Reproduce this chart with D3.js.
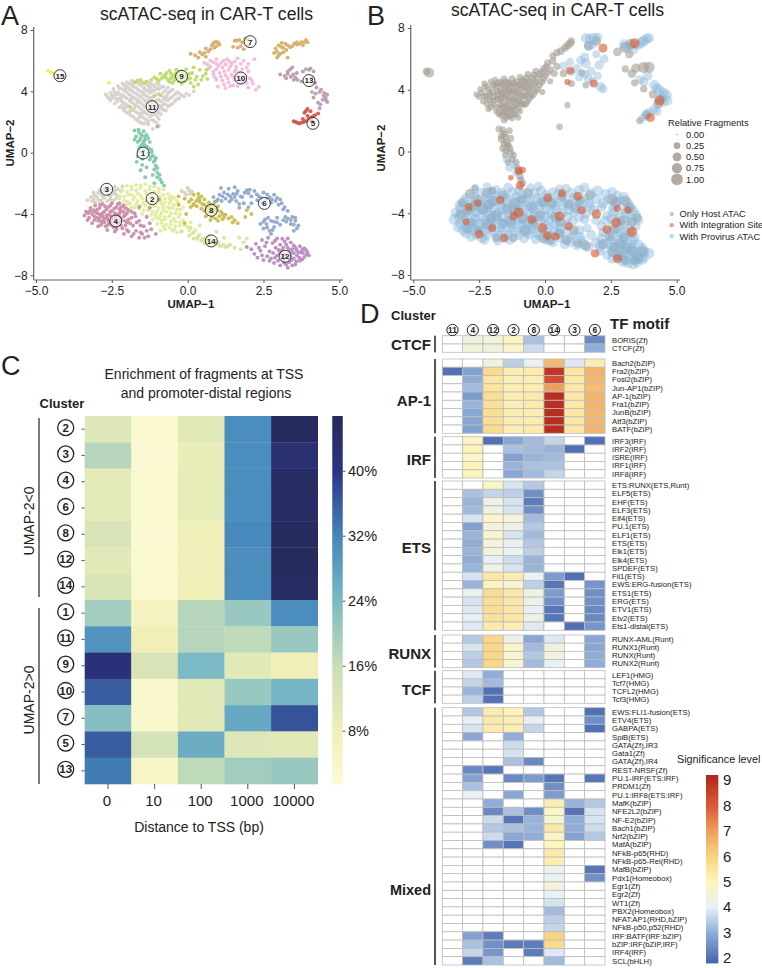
<!DOCTYPE html>
<html><head><meta charset="utf-8">
<script src="https://cdn.jsdelivr.net/npm/d3@7"></script>
<style>html,body{margin:0;padding:0;background:#fff}svg{display:block}text{font-family:"Liberation Sans",Arial,sans-serif;fill:#222}</style>
</head><body>
<div id="chart"></div>
<script>
// ---------- Panel A: cell coordinates per cluster (UMAP-1, UMAP-2) ----------
const c1=[[-1.75,1.45],[-1.6,1.3],[-1.45,1.4],[-1.35,1.15],[-1.7,1.05],[-1.55,.95],[-1.4,.85],[-1.25,.7],[-1.65,.7],[-1.5,.55],[-1.35,.4],[-1.6,.3],[-1.2,.2],[-1.45,.15],[-1.3,-.05],[-1.15,-.2],[-1.65,-.25],[-1.5,-.4],[-1.25,-.45],[-1.12,-.6],[-1.05,-.85],[-1.5,-.8],[-1.35,-.95],[-1.1,-1.1],[-1.0,-1.3],[-1.55,-1.15],[-1.15,-1.45],[-1.0,-1.6],[-.9,-1.75],[-1.4,-1.6],[-.85,-1.95],[-1.1,-2.0],[-.78,-2.15],[-1.6,.1],[-1.75,.85],[-1.3,.95],[-1.05,-.35],[-1.68,-.6],[-1.52,1.15],[-1.62,1.5],[-1.42,1.05],[-1.58,.82],[-1.45,.72],[-1.55,.4],[-1.42,.5],[-1.28,.28],[-1.18,.05],[-1.22,-.28],[-1.08,-.48],[-1.0,-1.0],[-.92,-1.45]];
const c2=[[-2.0,-2.15],[-1.7,-2.1],[-1.4,-2.05],[-1.1,-2.2],[-.8,-2.4],[-2.15,-2.45],[-1.85,-2.4],[-1.55,-2.3],[-1.25,-2.4],[-.95,-2.6],[-.65,-2.7],[-2.25,-2.8],[-1.95,-2.75],[-1.65,-2.65],[-1.35,-2.7],[-1.05,-2.85],[-.75,-3.0],[-.45,-2.95],[-2.1,-3.1],[-1.8,-3.05],[-1.5,-3.0],[-1.2,-3.2],[-.9,-3.15],[-.6,-3.3],[-.3,-3.35],[-2.0,-3.4],[-1.7,-3.35],[-1.4,-3.45],[-1.1,-3.5],[-.8,-3.5],[-.5,-3.6],[-.25,-3.7],[-1.9,-3.7],[-1.6,-3.65],[-1.3,-3.75],[-1.0,-3.8],[-.7,-3.85],[-.4,-3.95],[-1.5,-4.0],[-1.2,-4.05],[-.9,-4.1],[-.6,-4.15],[-.3,-4.2],[-1.15,-4.35],[-.85,-4.4],[-.55,-4.45],[-.25,-4.55],[-1.0,-4.65],[-.7,-4.7],[-.4,-4.8],[-.1,-4.75],[-.75,-5.0],[-.5,-5.1],[-.2,-5.1],[.05,-5.05],[-.9,-5.1],[-2.3,-3.0],[-1.75,-2.9],[-1.25,-2.95],[-.85,-3.35],[-.55,-3.1],[-1.85,-3.55],[-1.45,-3.25],[-1.05,-3.3],[-.6,-3.65],[-.95,-4.3],[-.75,-4.2],[-.45,-4.3],[-.8,-3.7],[-1.05,-4.2],[.15,-5.25],[.4,-5.35],[-.6,-4.9],[-1.85,-2.2],[-1.55,-2.15],[-1.25,-2.2],[-.95,-2.35],[-2.0,-2.55],[-1.7,-2.45],[-1.4,-2.5],[-1.1,-2.55],[-.8,-2.75],[-.55,-2.85],[-2.1,-2.85],[-1.85,-2.75],[-1.55,-2.8],[-1.2,-2.75],[-.9,-2.9],[-.6,-3.0],[-.35,-3.15],[-2.0,-3.2],[-1.65,-3.15],[-1.35,-3.15],[-1.1,-3.05],[-.75,-3.25],[-.45,-3.4],[-.15,-3.55],[-1.9,-3.3],[-1.55,-3.45],[-1.25,-3.55],[-.95,-3.6],[-.65,-3.55],[-.35,-3.7],[-1.75,-3.6],[-1.45,-3.75],[-1.15,-3.85],[-.85,-3.9],[-.55,-3.95],[-.25,-4.0],[-1.35,-4.15],[-1.05,-4.0],[-.75,-4.35],[-.4,-4.5],[-.15,-4.4],[-.85,-4.6],[-.55,-4.65],[-.25,-4.75],[-.8,-4.85],[-.45,-5.0],[-.35,-5.2],[0,-4.85],[.25,-5.05],[.1,-4.55]];
const c3=[[-3.2,-2.9],[-3.1,-2.6],[-2.9,-2.45],[-2.65,-2.25],[-2.4,-2.2],[-2.15,-2.2],[-3.0,-2.85],[-2.85,-2.7],[-2.65,-2.55],[-2.4,-2.45],[-2.2,-2.5],[-3.3,-3.1],[-3.15,-3.15],[-2.95,-3.05],[-2.75,-2.95],[-2.55,-2.85],[-2.35,-2.75],[-2.75,-2.35],[-2.5,-2.7],[-3.05,-3.25],[-2.9,-3.3],[-2.65,-3.15],[-2.45,-3.1],[-2.25,-2.95],[.15,-2.55],[0,-2.3],[-.2,-2.5],[-.05,-2.75],[-3.08,-2.78],[-2.95,-2.62],[-2.8,-2.52],[-2.55,-2.42],[-2.3,-2.38],[-2.8,-2.85],[-2.62,-2.75],[-2.42,-2.62],[-3.1,-3.02],[-2.85,-3.12],[-2.55,-3.02],[-2.35,-2.95],[.05,-2.45],[-.1,-2.62],[.08,-2.7]];
const c4=[[-3.4,-4.1],[-3.35,-3.85],[-3.3,-4.4],[-3.2,-3.6],[-3.15,-4.0],[-3.15,-4.6],[-3.05,-3.45],[-3.05,-3.85],[-3.0,-4.25],[-2.95,-4.8],[-2.9,-3.6],[-2.9,-4.05],[-2.85,-4.5],[-2.8,-3.35],[-2.75,-3.85],[-2.75,-4.3],[-2.7,-4.8],[-2.65,-5.05],[-2.6,-3.55],[-2.6,-4.05],[-2.55,-4.55],[-2.5,-3.3],[-2.5,-3.8],[-2.45,-4.3],[-2.45,-4.85],[-2.4,-5.15],[-2.35,-3.55],[-2.3,-4.05],[-2.3,-4.6],[-2.25,-3.3],[-2.2,-3.8],[-2.2,-4.3],[-2.15,-4.95],[-2.1,-5.3],[-2.1,-3.55],[-2.05,-4.05],[-2.0,-4.55],[-1.95,-3.75],[-1.95,-5.15],[-1.85,-5.45],[-1.85,-4.25],[-1.8,-4.75],[-1.75,-3.95],[-1.7,-5.1],[-1.6,-5.55],[-1.6,-4.45],[-1.5,-5.3],[-1.45,-4.8],[-1.35,-4.2],[-1.3,-5.45],[-1.2,-5.0],[-1.05,-5.3],[-3.25,-4.25],[-2.95,-4.45],[-2.65,-4.3],[-2.35,-4.85],[-2.05,-4.75],[-2.75,-4.55],[-2.55,-3.85],[-2.2,-3.55],[-2.85,-4.7],[-3.1,-3.75],[-2.3,-3.35],[-1.6,-3.55],[-1.25,-3.6],[-.95,-3.05],[-3.28,-3.95],[-3.22,-3.8],[-3.08,-4.15],[-3.08,-4.4],[-2.98,-3.7],[-2.98,-3.95],[-2.92,-4.3],[-2.88,-3.42],[-2.82,-3.95],[-2.82,-4.15],[-2.78,-4.42],[-2.72,-3.5],[-2.68,-3.7],[-2.68,-4.1],[-2.62,-4.45],[-2.62,-4.7],[-2.55,-3.45],[-2.52,-4.15],[-2.52,-4.4],[-2.5,-4.7],[-2.42,-3.65],[-2.4,-3.95],[-2.38,-4.15],[-2.38,-4.5],[-2.35,-5.0],[-2.25,-3.7],[-2.25,-3.95],[-2.25,-4.2],[-2.22,-4.45],[-2.2,-4.75],[-2.12,-3.42],[-2.12,-3.85],[-2.1,-4.15],[-2.08,-4.45],[-2.02,-3.65],[-2.0,-3.95],[-2.0,-5.05],[-1.95,-4.35],[-1.9,-4.6],[-1.85,-3.85],[-1.78,-5.3],[-1.72,-4.15],[-1.68,-4.55],[-1.55,-4.75],[-1.55,-5.2],[-1.42,-5.55],[-1.35,-5.1],[-1.25,-4.6]];
const c5=[[3.5,2.05],[3.62,1.95],[3.75,1.95],[3.88,2.05],[3.98,2.15],[4.08,2.3],[4.2,2.45],[4.3,2.55],[3.95,2.4],[3.85,2.6],[3.95,2.85],[4.05,2.7],[4.1,2.05],[3.8,2.2],[3.56,2.0],[3.68,1.9],[3.82,2.0],[4.02,2.25],[4.14,2.38],[3.9,2.72]];
const c6=[[.85,-2.9],[1.05,-2.75],[1.2,-2.6],[1.35,-2.35],[1.5,-2.7],[1.65,-2.5],[1.75,-2.85],[1.45,-3.05],[1.25,-3.0],[1.6,-3.15],[1.85,-3.3],[1.95,-2.45],[1.0,-3.05],[1.4,-2.85],[.9,-3.2],[1.8,-2.9],[1.7,-3.35],[2.0,-2.65],[2.2,-2.5],[2.35,-2.85],[2.1,-2.85],[2.5,-2.6],[2.7,-2.9],[2.85,-2.75],[2.3,-3.1],[2.6,-3.0],[2.9,-3.15],[3.1,-3.3],[3.2,-3.55],[3.3,-3.8],[2.75,-3.25],[3.05,-3.05],[2.45,-3.3],[3.45,-4.2],[3.55,-4.45],[3.65,-4.75],[3.3,-4.3],[3.15,-4.4],[2.95,-4.25],[2.75,-4.45],[2.55,-4.35],[2.4,-4.65],[2.5,-4.95],[2.7,-5.1],[2.85,-4.85],[3.05,-4.7],[3.4,-4.65],[2.6,-4.65],[2.75,-5.3],[3.6,-4.95],[3.5,-5.1],[1.1,-2.3],[1.55,-2.25],[1.7,-3.6],[2.1,-3.3],[2.0,-3.55],[1.15,-2.85],[1.32,-2.72],[1.55,-2.9],[1.62,-2.68],[1.38,-3.18],[1.12,-3.15],[1.88,-2.62],[2.05,-2.42],[2.28,-2.72],[2.42,-2.95],[2.62,-2.72],[2.78,-3.05],[2.95,-2.95],[3.0,-3.4],[3.15,-3.7],[3.4,-4.4],[3.5,-4.7],[3.25,-4.5],[2.85,-4.5],[2.65,-4.25],[2.5,-4.5],[2.95,-4.55],[2.62,-4.88],[2.8,-5.05],[3.55,-4.25],[3.22,-4.2]];
const c7=[[.25,6.35],[.4,6.55],[.55,6.5],[.6,6.8],[.75,6.75],[.8,7.0],[.95,6.95],[1.0,7.2],[.85,7.15],[.35,6.2],[.1,6.45],[.6,6.25],[1.5,6.9],[1.55,7.3],[1.7,7.35],[1.8,7.2],[1.9,7.45],[1.65,6.85],[1.85,6.75],[2.0,7.0],[2.85,6.5],[2.9,6.8],[3.0,7.0],[3.15,6.85],[3.3,7.0],[3.45,6.95],[3.6,7.05],[3.75,7.2],[3.9,7.35],[3.05,6.45],[2.95,6.2],[3.15,6.55],[3.3,6.2],[3.25,6.7],[3.6,7.2],[3.8,7.0],[3.95,7.2],[3.1,7.15],[.48,6.4],[.68,6.6],[.88,6.85],[1.05,7.05],[.92,7.22],[1.62,7.32],[1.98,7.38],[1.75,6.95],[2.95,6.6],[3.08,6.9],[3.22,7.1],[3.38,6.88],[3.52,7.12],[3.68,7.1],[3.85,7.22],[3.0,6.35]];
const c8=[[-.3,-2.85],[-.1,-3.0],[.05,-3.2],[.2,-2.75],[.35,-2.95],[.2,-3.35],[.4,-3.2],[.55,-3.4],[.7,-3.25],[.55,-3.05],[.85,-3.4],[.45,-3.65],[.65,-3.6],[.85,-3.7],[1.0,-3.5],[.7,-3.9],[.9,-3.95],[1.1,-3.85],[.8,-4.2],[1.05,-4.15],[1.25,-4.05],[1.15,-4.35],[1.35,-4.3],[1.55,-4.4],[1.65,-4.6],[1.0,-4.45],[.75,-4.4],[.3,-3.5],[.1,-3.55],[.95,-3.15],[-.05,-4.0],[-.1,-4.6],[.6,-4.15],[-.3,-3.4],[.35,-2.7],[.75,-3.5],[.55,-3.8],[1.9,-4.2],[2.1,-4.0],[1.95,-3.75],[.12,-3.05],[.28,-3.15],[.45,-2.85],[.48,-3.35],[.62,-3.5],[.78,-3.4],[.62,-3.7],[.8,-3.85],[.98,-3.75],[.92,-3.6],[1.15,-4.0],[.92,-4.3],[1.2,-4.2],[1.45,-4.2],[1.48,-4.55],[.18,-3.42],[.38,-3.05]];
const c9=[[-1.75,4.6],[-1.55,4.75],[-1.35,4.65],[-1.1,4.9],[-.95,4.7],[-.8,4.95],[-.65,4.75],[-.7,5.2],[-.5,5.0],[-.5,4.55],[-.3,5.3],[-.35,4.85],[-.2,4.5],[-.15,5.1],[-.05,5.45],[0,4.8],[.15,5.2],[.2,5.55],[.1,4.55],[.3,4.95],[.4,5.4],[.45,4.75],[.6,5.15],[.65,4.8],[.7,5.5],[.2,4.3],[.35,4.45],[-.05,5.0],[-.4,5.15],[-.6,5.35],[-.9,5.15],[-1.2,4.75],[-.75,5.05],[-.2,4.75],[-.45,4.7],[-1.1,3.7],[-.9,3.75],[-1.9,3.0],[-.85,4.85],[-.55,4.85],[-.55,5.15],[-.42,4.95],[-.3,4.65],[-.28,5.05],[-.12,4.9],[-.1,4.65],[-.18,5.3],[-1.02,4.82],[-.72,4.9],[-.6,4.62],[.05,5.15],[.08,4.85],[.25,4.75],[.5,5.0],[.62,5.4],[-.38,5.4],[-1.45,4.55],[-1.65,4.7]];
const c10=[[.55,5.85],[.75,6.0],[.95,6.1],[1.1,5.85],[1.3,6.1],[1.45,5.8],[1.65,6.15],[1.85,6.0],[2.0,5.8],[2.2,6.1],[.75,5.6],[.95,5.45],[1.15,5.55],[1.35,5.4],[1.6,5.6],[1.8,5.45],[2.0,5.3],[.85,5.1],[1.05,5.2],[1.25,5.05],[1.45,5.1],[1.65,5.0],[1.9,5.0],[2.05,4.85],[.95,4.75],[1.15,4.7],[1.35,4.6],[1.55,4.75],[1.75,4.55],[1.95,4.55],[2.15,4.5],[1.0,4.3],[1.25,4.2],[1.5,4.4],[2.0,4.25],[2.25,4.1],[.95,5.8],[1.25,5.75],[1.55,5.3],[2.35,4.3],[.65,5.75],[.85,5.9],[1.18,6.0],[1.38,5.95],[1.55,5.95],[1.75,5.8],[1.95,5.55],[.85,5.3],[1.02,5.65],[1.2,5.3],[1.4,5.62],[1.6,5.4],[1.72,5.22],[.9,4.9],[1.1,4.95],[1.32,4.85],[1.5,4.95],[1.75,4.8],[2.12,4.7],[1.2,4.45],[1.4,4.35],[1.65,4.35],[1.85,4.7]];
const c11=[[-2.65,3.65],[-2.55,3.9],[-2.55,3.4],[-2.45,4.15],[-2.45,3.7],[-2.4,3.2],[-2.3,4.35],[-2.3,3.95],[-2.3,3.5],[-2.25,2.95],[-2.15,4.5],[-2.15,4.15],[-2.15,3.75],[-2.15,3.3],[-2.1,2.75],[-2.0,4.6],[-2.0,4.3],[-2.0,3.95],[-2.0,3.55],[-2.0,3.1],[-1.95,2.55],[-1.85,4.7],[-1.85,4.4],[-1.85,4.05],[-1.85,3.7],[-1.85,3.3],[-1.85,2.85],[-1.8,2.35],[-1.7,4.6],[-1.7,4.25],[-1.7,3.85],[-1.7,3.5],[-1.7,3.1],[-1.7,2.65],[-1.65,2.1],[-1.55,4.65],[-1.55,4.4],[-1.55,4.0],[-1.55,3.65],[-1.55,3.25],[-1.55,2.85],[-1.55,2.4],[-1.5,1.9],[-1.4,4.5],[-1.4,4.15],[-1.4,3.75],[-1.4,3.4],[-1.4,3.0],[-1.4,2.6],[-1.4,2.2],[-1.25,4.55],[-1.25,4.25],[-1.25,3.9],[-1.25,3.55],[-1.25,3.15],[-1.25,2.75],[-1.25,2.35],[-1.3,1.85],[-1.1,4.35],[-1.1,4.05],[-1.1,3.7],[-1.1,3.3],[-1.1,2.9],[-1.1,2.5],[-1.1,2.05],[-.95,4.45],[-.95,4.15],[-.95,3.85],[-.95,3.45],[-.95,3.05],[-.95,2.65],[-.95,2.2],[-.8,4.3],[-.8,3.95],[-.8,3.6],[-.8,3.2],[-.8,2.8],[-.65,4.25],[-.65,3.85],[-.65,3.4],[-.65,3.0],[-.5,4.1],[-.5,3.65],[-.5,3.2],[-.35,3.95],[-.35,3.5],[-.2,3.75],[-.05,3.85],[.2,4.0],[-.95,1.75],[-2.7,3.8],[-2.5,3.55],[-2.2,3.6],[-2.05,2.95],[-1.75,2.95],[-1.5,2.6],[-1.35,3.2],[-1.0,2.35],[-.85,3.05],[-1.2,3.5],[-1.45,3.95],[-1.8,4.5],[-2.05,4.15],[-2.35,3.8],[-1.65,3.3],[-.7,3.7],[-1.15,1.55],[-1.3,2.0],[-1.6,2.3],[-1.85,3.5],[-1.3,4.0],[-1.05,3.15],[-.75,3.45],[-1.2,4.15],[-2.6,3.55],[-2.5,3.75],[-2.42,3.95],[-2.38,3.55],[-2.33,3.35],[-2.25,4.2],[-2.23,3.8],[-2.2,3.4],[-2.18,3.05],[-2.12,2.9],[-2.08,4.4],[-2.07,4.0],[-2.08,3.65],[-2.07,3.2],[-2.03,2.65],[-1.93,4.5],[-1.92,4.15],[-1.93,3.8],[-1.92,3.4],[-1.93,3.0],[-1.9,2.7],[-1.88,2.45],[-1.78,4.6],[-1.78,4.3],[-1.78,3.95],[-1.78,3.6],[-1.78,3.2],[-1.78,2.75],[-1.73,2.2],[-1.62,4.5],[-1.63,4.1],[-1.63,3.75],[-1.62,3.4],[-1.62,3.0],[-1.62,2.55],[-1.58,2.0],[-1.47,4.55],[-1.47,4.25],[-1.48,3.85],[-1.47,3.5],[-1.47,3.1],[-1.47,2.75],[-1.47,2.3],[-1.42,1.9],[-1.32,4.4],[-1.33,4.05],[-1.32,3.65],[-1.33,3.3],[-1.32,2.9],[-1.33,2.5],[-1.32,2.1],[-1.18,4.45],[-1.18,3.95],[-1.18,3.6],[-1.18,3.25],[-1.18,2.85],[-1.18,2.45],[-1.18,2.15],[-1.02,4.55],[-1.02,4.2],[-1.02,3.8],[-1.02,3.4],[-1.02,3.0],[-1.02,2.6],[-1.02,1.95],[-.88,4.25],[-.88,3.75],[-.88,3.35],[-.88,2.9],[-.88,2.5],[-.72,4.05],[-.72,3.55],[-.72,3.15],[-.72,2.75],[-.58,4.0],[-.58,3.55],[-.58,3.1],[-.42,3.8],[-.42,3.35],[-.28,3.85],[-.28,3.55],[-.12,3.65],[.05,3.75]];
const c12=[[1.95,-6.15],[2.1,-6.3],[2.25,-5.95],[2.4,-6.4],[2.3,-6.85],[2.5,-7.0],[2.45,-5.7],[2.55,-6.1],[2.65,-5.55],[2.7,-6.45],[2.75,-6.9],[2.8,-5.9],[2.85,-7.2],[2.9,-6.2],[2.95,-5.6],[2.95,-6.7],[3.05,-7.35],[3.05,-6.0],[3.1,-6.4],[3.15,-7.0],[3.2,-5.8],[3.2,-6.65],[3.3,-7.5],[3.3,-6.2],[3.35,-7.15],[3.4,-5.85],[3.4,-6.5],[3.5,-6.9],[3.5,-6.05],[3.55,-7.3],[3.6,-6.35],[3.6,-6.7],[3.7,-6.1],[3.7,-7.05],[3.75,-6.5],[3.85,-6.25],[3.85,-6.8],[3.95,-6.5],[4.0,-6.7],[3.3,-5.6],[3.1,-6.85],[2.7,-7.05],[3.25,-7.3],[3.8,-6.55],[3.5,-6.55],[2.35,-6.2],[3.0,-6.35],[3.25,-6.0],[3.45,-6.3],[3.15,-6.2],[2.6,-5.85],[2.62,-6.75],[2.82,-6.55],[2.88,-5.75],[2.88,-6.85],[2.98,-7.05],[3.05,-6.55],[3.12,-5.62],[3.18,-7.18],[3.25,-6.85],[3.35,-6.35],[3.38,-6.75],[3.42,-7.0],[3.45,-7.35],[3.55,-6.2],[3.58,-7.1],[3.65,-6.5],[3.68,-6.85],[3.78,-6.3],[3.78,-6.95],[3.9,-6.35],[3.92,-6.65],[2.2,-6.6],[2.45,-6.7]];
const c13=[[3.05,5.1],[3.2,5.0],[3.3,5.3],[3.4,4.95],[3.45,5.55],[3.55,4.9],[3.6,5.2],[3.75,4.65],[3.8,5.3],[3.9,5.45],[4.05,5.5],[4.15,5.3],[4.1,4.9],[4.2,4.55],[4.25,4.25],[4.35,3.95],[4.1,3.95],[4.15,3.6],[4.4,4.1],[4.5,3.9],[4.55,3.6],[4.6,3.3],[4.45,3.45],[4.3,3.25],[4.35,2.9],[4.6,3.8],[3.5,4.75],[3.3,5.15],[4.0,5.4],[-1.0,1.7],[3.25,4.85],[3.38,5.42],[3.48,5.1],[3.62,4.75],[4.22,3.85],[4.48,3.72],[4.55,3.45],[4.38,3.15]];
const c14=[[-.2,-5.15],[.05,-5.4],[.2,-5.6],[.35,-5.45],[.45,-5.75],[.55,-5.9],[.7,-5.95],[.85,-6.0],[1.0,-5.85],[1.1,-6.1],[1.25,-6.15],[1.4,-6.0],[1.55,-6.2],[.6,-5.6],[.2,-5.2],[.8,-5.65],[1.2,-5.55],[1.7,-5.55],[1.85,-5.85],[1.95,-5.6],[1.75,-6.3],[.4,-4.75],[.1,-4.9],[.95,-5.15],[.32,-5.62],[.5,-5.62],[.62,-5.78],[.78,-5.85],[.92,-5.95],[1.02,-6.02],[1.18,-6.0],[1.32,-6.1],[.68,-5.45]];
const c15=[[-4.6,5.35],[-4.5,5.25],[-4.4,5.15],[-2.6,4.55]];
// cluster order, colours and label anchors for panel A
const clusterIds=[11,9,10,7,13,5,1,3,2,4,8,6,14,12,15];
const clusterPts={1:c1,2:c2,3:c3,4:c4,5:c5,6:c6,7:c7,8:c8,9:c9,10:c10,11:c11,12:c12,13:c13,14:c14,15:c15};
const clusterCol={1:"#7fc9a6",2:"#e0ec9a",3:"#d6d2c0",4:"#cb8ea9",5:"#d2574c",6:"#8fa8cb",7:"#d7ae68",8:"#c9bd4c",9:"#bedb6c",10:"#f3bbdd",11:"#d9d1ce",12:"#ba8cc3",13:"#b99cb3",14:"#d0e69c",15:"#eef05c"};
const labelIds=[1,2,3,4,5,6,7,8,9,10,11,12,13,14,15];
const labelX=[-1.47,-1.17,-2.67,-2.37,4.13,2.53,2.06,.78,-.2,1.75,-1.17,3.21,4.0,.78,-4.21];
const labelY=[-.03,-3.0,-2.39,-4.46,1.91,-3.31,7.24,-3.76,4.98,4.87,3.0,-6.76,4.7,-5.76,5.02];

// ---------- Panel B: x, y, relative fragments ----------
const bProvirus=[[-2.7,-2.5,.5],[-2.2,-2.3,.6],[-1.85,-2.45,.5],[-1.4,-2.35,.7],[-1.0,-2.5,.6],[-.55,-2.35,.5],[-.15,-2.55,.7],[.3,-2.6,.5],[.8,-2.4,.6],[1.3,-2.5,.7],[1.75,-2.7,.6],[2.3,-2.75,.7],[2.75,-2.85,.6],[-3.0,-3.0,.6],[-2.65,-2.95,.7],[-2.25,-3.0,.7],[-1.9,-2.9,.6],[-1.5,-3.0,.8],[-1.1,-2.95,.6],[-.7,-3.0,.7],[-.3,-3.05,.8],[.15,-3.0,.6],[.6,-3.05,.7],[1.1,-3.0,.8],[1.5,-3.05,.6],[1.95,-3.1,.7],[2.4,-3.1,.7],[2.85,-3.2,.6],[3.15,-3.35,.7],[-3.25,-3.45,.6],[-2.85,-3.45,.8],[-2.45,-3.5,.6],[-2.05,-3.4,.8],[-1.65,-3.5,.7],[-1.25,-3.45,.6],[-.85,-3.5,.8],[-.45,-3.5,.7],[-.05,-3.45,.6],[.4,-3.5,.8],[.85,-3.5,.7],[1.3,-3.45,.6],[1.7,-3.55,.8],[2.15,-3.6,.6],[2.6,-3.65,.8],[3.05,-3.75,.6],[3.35,-3.85,.7],[-3.4,-3.95,.7],[-3.0,-3.95,.8],[-2.6,-3.95,.7],[-2.2,-3.9,.9],[-1.8,-3.95,.6],[-1.4,-3.95,.8],[-1.0,-3.95,.7],[-.6,-4.0,.6],[-.2,-3.95,.8],[.2,-3.95,.7],[.65,-4.0,.8],[1.1,-3.95,.6],[1.55,-4.05,.7],[2.35,-4.15,.6],[2.85,-4.25,.8],[3.25,-4.3,.7],[3.55,-4.45,.6],[-3.45,-4.4,.8],[-3.05,-4.45,.7],[-2.65,-4.4,.9],[-2.25,-4.45,.7],[-1.85,-4.4,.8],[-1.45,-4.5,.7],[-1.05,-4.45,.6],[-.65,-4.5,.8],[-.25,-4.45,.7],[.15,-4.5,.8],[.55,-4.55,.6],[1.05,-4.5,.7],[2.6,-4.7,.7],[3.0,-4.75,.8],[3.45,-4.85,.6],[-3.3,-4.9,.7],[-2.85,-4.9,.9],[-2.45,-4.95,.7],[-2.05,-4.9,.8],[-1.65,-4.95,.6],[-1.25,-4.95,.7],[-.85,-4.95,.8],[-.45,-5.0,.7],[-.05,-5.0,.6],[.35,-5.05,.7],[.8,-5.2,.8],[2.45,-5.2,.7],[2.85,-5.25,.8],[3.2,-5.3,.6],[-3.0,-5.3,.7],[-2.6,-5.35,.8],[-2.2,-5.4,.7],[-1.8,-5.45,.8],[-1.4,-5.4,.6],[-1.0,-5.4,.7],[-.6,-5.4,.6],[-.2,-5.45,.7],[.2,-5.5,.8],[.6,-5.6,.6],[1.0,-5.6,.7],[1.4,-5.75,.6],[2.15,-5.65,.8],[2.55,-5.7,.7],[2.95,-5.75,.8],[3.35,-5.8,.7],[-2.3,-5.75,.6],[-1.8,-5.8,.5],[-1.35,-5.75,.6],[.3,-5.9,.6],[.75,-6.0,.7],[1.2,-6.1,.6],[1.65,-6.2,.7],[2.1,-6.15,.8],[2.5,-6.2,.7],[2.9,-6.25,.9],[3.3,-6.2,.8],[3.7,-6.25,.7],[2.35,-6.7,.6],[2.75,-6.75,.8],[3.15,-6.7,.7],[3.55,-6.7,.8],[3.95,-6.6,.8],[2.95,-7.15,.7],[3.35,-7.3,.8],[3.7,-7.0,.7],[1.7,7.3,.7],[2.0,7.4,.6],[1.8,6.9,.5],[1.5,6.1,.6],[.95,5.8,.4],[.7,5.55,.5],[1.2,5.35,.6],[1.55,5.7,.7],[1.75,5.2,.5],[2.05,5.6,.6],[1.3,4.8,.4],[1.8,4.55,.5],[2.1,4.2,.6],[2.25,6.0,.5],[3.0,6.95,.7],[3.35,6.6,.6],[3.75,7.15,.8],[3.95,7.35,.7],[3.55,6.9,.7],[3.6,4.65,.5],[3.9,4.9,.6],[4.15,4.3,.7],[4.35,3.95,.8],[4.6,3.65,.9],[4.65,3.3,.7],[4.35,3.4,.6],[4.15,2.75,.6],[3.95,2.55,.5],[3.7,2.15,.4],[-1.45,-.5,.4],[-1.35,-1.05,.4],[-1.1,-1.4,.3],[-1.15,-.9,.3],
[-2.45,-2.65,.6],[-2.05,-2.65,.7],[-1.65,-2.7,.7],[-1.25,-2.65,.8],[-.85,-2.75,.7],[-.4,-2.7,.8],[.05,-2.8,.7],[.5,-2.75,.8],[1.0,-2.7,.8],[1.5,-2.35,.7],[2.0,-2.55,.8],[2.55,-2.6,.6],[3.0,-2.95,.7],[-3.1,-3.25,.8],[-2.65,-3.25,.8],[-2.25,-3.25,.9],[-1.85,-3.2,.8],[-1.45,-3.25,.9],[-1.0,-3.25,.8],[-.6,-3.25,.9],[-.15,-3.25,.8],[.3,-3.25,.8],[.75,-3.3,.9],[1.2,-3.25,.8],[1.65,-3.3,.8],[2.2,-3.35,.8],[2.65,-3.4,.8],[3.25,-3.6,.7],[-3.2,-3.7,.8],[-2.8,-3.7,.9],[-2.4,-3.7,.9],[-2.0,-3.65,.8],[-1.6,-3.72,.9],[-1.2,-3.7,.9],[-.8,-3.75,.9],[-.4,-3.75,.8],[.05,-3.7,.9],[.45,-3.75,.8],[.9,-3.75,.8],[1.35,-3.7,.8],[1.85,-3.8,.8],[2.6,-3.95,.8],[3.05,-4.0,.8],[3.45,-4.1,.7],[-3.25,-4.2,.9],[-2.85,-4.2,.9],[-2.45,-4.2,.9],[-2.05,-4.15,.9],[-1.65,-4.2,.9],[-1.25,-4.2,.8],[-.85,-4.25,.9],[-.45,-4.25,.8],[0,-4.25,.9],[.4,-4.3,.8],[.85,-4.25,.8],[1.3,-4.25,.7],[2.55,-4.35,.8],[3.05,-4.45,.8],[-3.2,-4.65,.9],[-2.85,-4.65,.9],[-2.45,-4.7,.9],[-2.05,-4.65,.9],[-1.65,-4.7,.9],[-1.25,-4.7,.9],[-.85,-4.7,.9],[-.45,-4.75,.9],[0,-4.75,.8],[.35,-4.75,.7],[.85,-4.8,.6],[2.8,-4.95,.8],[3.2,-5.0,.8],[-3.1,-5.1,.8],[-2.7,-5.1,.9],[-2.3,-5.15,.9],[-1.9,-5.15,.9],[-1.5,-5.2,.9],[-1.1,-5.2,.9],[-.7,-5.2,.9],[-.3,-5.25,.8],[.1,-5.25,.8],[.5,-5.35,.7],[1.1,-5.4,.6],[2.6,-5.45,.9],[3.0,-5.5,.9],[3.4,-5.55,.7],[-2.8,-5.55,.6],[-2.4,-5.6,.7],[-1.6,-5.6,.7],[-.8,-5.65,.6],[-.35,-5.7,.6],[.05,-5.75,.6],[.95,-5.85,.7],[1.45,-6.0,.7],[1.95,-5.9,.8],[2.35,-5.95,.8],[2.75,-6.0,.9],[3.15,-6.0,.9],[3.55,-6.05,.8],[2.1,-6.45,.6],[2.55,-6.5,.8],[2.95,-6.5,.9],[3.35,-6.5,.9],[3.75,-6.5,.9],[2.55,-6.95,.7],[2.95,-6.85,.8],[3.35,-6.9,.9],[3.75,-6.85,.8],[3.15,-7.2,.8],[3.5,-7.2,.6],
[1.55,7.35,.7],[1.85,7.35,.8],[1.65,6.8,.5],[3.15,6.75,.6],[3.65,7.05,.8],[3.85,7.3,.8],[1.95,6.3,.4],[1.35,5.9,.5],[1.0,5.15,.4],[1.5,5.0,.5],[2.0,4.9,.4],[1.65,4.7,.5],[2.2,4.05,.5],[3.75,4.5,.6],[4.25,4.1,.7],[4.5,3.8,.8],[4.45,3.5,.7],[4.5,3.2,.6],[4.25,2.6,.6],[3.85,2.3,.5],
[1.5,-4.4,.6],[1.95,-4.45,.7],[2.15,-4.85,.6],[1.6,-4.95,.5],[1.3,-5.1,.7],[1.75,-5.4,.7],[2.2,-5.25,.6],[1.35,-5.5,.5],[2.3,-4.45,.6],[.6,-5.0,.6],[-.25,-2.25,.5],[.55,-2.4,.5]];
const bHost=[[-2.3,4.4,.2],[-2.15,4.05,.3],[-2.4,3.8,.25],[-2.6,3.7,.2],[-2.2,3.55,.3],[-2.35,3.25,.2],[-2.05,4.5,.25],[-2.0,3.85,.3],[-1.95,3.3,.25],[-2.05,2.9,.3],[-1.9,4.65,.2],[-1.85,4.2,.3],[-1.8,3.65,.25],[-1.85,2.6,.2],[-1.7,4.5,.3],[-1.7,3.95,.25],[-1.7,3.35,.3],[-1.7,3.0,.2],[-1.65,2.35,.3],[-1.55,4.7,.25],[-1.55,4.2,.3],[-1.55,3.7,.2],[-1.55,3.15,.3],[-1.55,2.7,.25],[-1.55,2.05,.3],[-1.4,4.45,.25],[-1.4,3.95,.3],[-1.4,3.45,.25],[-1.4,2.9,.3],[-1.4,2.4,.2],[-1.25,4.7,.3],[-1.25,4.25,.2],[-1.25,3.75,.3],[-1.25,3.2,.25],[-1.25,2.65,.3],[-1.25,2.15,.2],[-1.1,4.5,.3],[-1.1,4.0,.25],[-1.1,3.5,.3],[-1.1,3.0,.25],[-1.1,2.4,.2],[-.95,4.8,.25],[-.95,4.3,.3],[-.95,3.75,.25],[-.95,3.2,.3],[-.95,2.6,.2],[-.8,4.55,.3],[-.8,4.05,.25],[-.8,3.55,.3],[-.8,3.0,.2],[-.65,5.0,.25],[-.65,4.4,.3],[-.65,3.8,.25],[-.65,3.25,.2],[-.5,4.75,.3],[-.5,4.15,.25],[-.5,3.6,.2],[-.35,5.2,.3],[-.35,4.5,.25],[-.35,3.9,.2],[-.2,5.0,.3],[-.2,4.3,.25],[-.05,5.35,.3],[-.05,4.7,.25],[.1,5.1,.2],[.2,4.55,.2],[-.1,3.85,.2],[-1.75,1.45,.3],[-1.55,1.15,.3],[-1.35,1.35,.25],[-1.65,.8,.3],[-1.45,.6,.35],[-1.3,.85,.3],[-1.6,.2,.3],[-1.35,.2,.35],[-1.2,-.25,.3],[-1.5,-.25,.25],[-1.1,-.7,.3],[-1.05,-1.05,.25],[-.95,-1.6,.3],[-.85,-2.05,.3],[.3,6.2,.3],[.6,6.5,.35],[.85,6.85,.4],[1.0,7.15,.35],[.1,5.75,.3],[.45,5.5,.3],[.7,5.05,.35],[1.0,4.4,.3],[1.4,5.1,.3],[1.55,4.3,.25],[.85,3.0,.2],[.55,1.6,.25],[1.65,6.85,.6],[1.95,7.15,.6],[2.75,6.45,.5],[3.05,6.75,.9],[3.25,6.95,.8],[3.2,6.3,.4],[3.05,5.35,.3],[3.3,5.05,.5],[3.45,5.4,.6],[3.75,5.45,.9],[3.95,5.45,.9],[3.4,4.45,.3],[3.75,4.05,.3],[4.1,3.7,.4],[4.3,3.1,.7],[3.85,2.4,.6],[3.6,2.0,.3],[-2.65,-2.35,.3],[-3.15,-3.35,.5],[-2.55,-3.15,.7],[-1.95,-3.2,.7],[-2.95,-3.85,.6],[-2.35,-3.75,.8],[-1.45,-3.7,.7],[-2.75,-4.6,.5],[-2.05,-4.35,.7],[-1.6,-4.65,.6],[-.85,-4.35,.8],[-.1,-3.3,.7],[.35,-4.2,.5],[.9,-3.4,.6],[1.35,-3.15,.5],[.6,-4.6,.7],[1.1,-5.1,.6],[.2,-5.75,.7],[.8,-5.75,.6],[1.25,-5.95,.5],[2.7,-3.3,.8],[3.2,-3.65,.7],[2.9,-4.5,.6],[3.5,-4.3,.6],[2.45,-5.55,.5],[2.85,-6.0,.8],[3.3,-6.45,.9],[3.7,-6.45,.8],[2.55,-6.5,.5],[3.05,-7.05,.6],[3.4,-7.05,.6],[-1.2,-5.6,.5],[-2.55,-5.1,.5],[-1.85,-5.6,.5],[-.9,-3.1,.6],[-2.0,-2.55,.4],[-4.5,5.2,.35],[-4.4,5.1,.7],
[-2.5,3.55,.2],[-2.45,4.05,.2],[-2.3,3.6,.25],[-2.25,4.2,.25],[-2.2,3.1,.25],[-2.1,3.75,.25],[-2.1,3.35,.3],[-2.15,2.75,.2],[-1.95,4.3,.3],[-1.95,3.55,.25],[-1.95,3.05,.25],[-1.8,4.4,.3],[-1.8,3.9,.25],[-1.8,3.4,.3],[-1.8,2.85,.25],[-1.75,2.45,.25],[-1.63,4.35,.25],[-1.63,3.8,.3],[-1.63,3.5,.25],[-1.65,2.85,.25],[-1.6,2.5,.25],[-1.48,4.5,.3],[-1.48,4.05,.25],[-1.48,3.55,.3],[-1.48,3.0,.25],[-1.47,2.55,.25],[-1.45,2.2,.2],[-1.33,4.3,.3],[-1.33,3.85,.25],[-1.33,3.3,.3],[-1.33,2.75,.25],[-1.33,2.3,.25],[-1.18,4.4,.25],[-1.18,3.9,.3],[-1.18,3.4,.25],[-1.18,2.9,.3],[-1.18,2.45,.25],[-1.02,4.25,.3],[-1.02,3.8,.25],[-1.02,3.3,.3],[-1.02,2.8,.25],[-1.02,2.2,.2],[-.88,4.6,.3],[-.88,4.15,.25],[-.88,3.6,.25],[-.88,3.1,.25],[-.72,4.75,.25],[-.72,4.2,.3],[-.72,3.65,.25],[-.72,3.1,.25],[-.58,4.55,.25],[-.58,4.0,.3],[-.58,3.45,.25],[-.42,4.95,.25],[-.42,4.35,.3],[-.42,3.7,.2],[-.28,4.75,.3],[-.28,4.05,.25],[-.12,5.15,.3],[-.12,4.5,.25],[.02,4.9,.25],[.05,5.5,.25],[.2,5.3,.3],[.35,5.05,.3],[-1.6,1.4,.25],[-1.65,1.0,.3],[-1.5,.95,.25],[-1.55,.5,.3],[-1.4,.4,.3],[-1.5,.05,.25],[-1.3,-.05,.3],[-1.25,-.5,.3],[-1.4,-.7,.25],[-1.0,-1.3,.25],[-.92,-1.85,.3],[.45,6.4,.3],[.75,6.7,.35],[.95,7.0,.4],[.3,5.85,.3],
[-2.85,-2.75,.7],[-2.2,-2.7,.7],[-1.6,-2.85,.7],[-.65,-2.7,.7],[.65,-2.9,.7],[1.7,-2.85,.7],[-2.7,-3.55,.8],[-2.15,-3.45,.8],[-1.15,-3.35,.9],[-.5,-3.6,.8],[.25,-3.35,.8],[1.15,-3.65,.7],[-3.2,-4.05,.7],[-1.85,-4.15,.9],[-1.15,-3.85,.8],[-.2,-4.15,.8],[-2.95,-5.0,.7],[-2.2,-4.7,.9],[-1.3,-4.55,.9],[-.45,-4.6,.8],[-.75,-5.1,.9],[-.05,-5.6,.8],[.55,-5.3,.7],[1.55,-6.1,.7],[2.2,-6.0,.7],[2.65,-6.2,.8],[3.1,-6.25,.9],[3.55,-6.9,.9],[2.85,-6.75,.8],[3.05,-3.2,.8],[2.55,-3.1,.8],[3.3,-4.55,.7],[2.65,-5.05,.7],[3.0,-5.55,.6]];
const bIntegration=[[-1.0,-1.25,.4],[-.85,-1.2,.25],[-.95,-2.2,.45],[-1.3,-1.7,.15],[2.2,6.7,.55],[3.4,7.0,.7],[.95,5.25,.4],[1.85,4.4,.4],[.85,4.5,.2],[4.35,3.3,.7],[4.0,2.2,.55],[-2.9,-3.6,.4],[-2.55,-3.35,.3],[-3.0,-4.55,.3],[-2.5,-5.35,.5],[-2.0,-4.95,.4],[-1.55,-5.6,.4],[-1.7,-3.15,.4],[-1.2,-4.2,.4],[-1.0,-3.95,.7],[-.5,-4.4,.5],[-.1,-4.95,.65],[.1,-3.0,.5],[.1,-5.45,.5],[.4,-5.5,.4],[.65,-2.7,.4],[.55,-4.2,.65],[.9,-4.85,.4],[1.25,-2.9,.5],[1.4,-3.8,.4],[1.95,-4.05,.6],[2.35,-5.05,.5],[2.7,-4.6,.65],[3.3,-5.2,.75],[2.75,-6.95,.55],[1.9,-6.6,.45],[2.75,-3.7,.3],[3.15,-3.8,.3]];

// ---------- Panel C ----------
const tssClusters=[2,3,4,6,8,12,14,1,11,9,10,7,5,13];
const tssBins=["0","10","100","1000","10000"];
const tss0=[12,18,10.5,10.5,13,11,12.5,20,30,42,36,23,36,33];
const tss10=[3,2.5,3,3,2.5,3,3,6,8,13,3.5,3.5,14,5];
const tss100=[11,9,10,10,8,7.5,8,18,18,24,11,11,26,17];
const tss1000=[31,31,31,31,31.5,31,31,21,17,11,21,27,12,20];
const tss10000=[46,43,45.5,45,46,46.5,45.5,31,21,8,25,37,11,21];
const tssTicks=[8,16,24,32,40];
const tssStops=[1.5,8,16,24,32,40,46.8];
const tssColours=["#fdfbd5","#f0efb8","#c9deb7","#7bbac5","#4486bb","#2d3485","#262a5a"];

// ---------- Panel D ----------
const motifClusters=[11,4,12,2,8,14,3,6];
const groupNames=["CTCF","AP-1","IRF","ETS","RUNX","TCF","Mixed"];
const ctcfRows=["BORIS(Zf)","CTCF(Zf)"];
const ctcfVals=[[0,4.4,4.5,5,3.3,0,0,2.4],[0,4.5,4.4,4.8,3.7,0,0,3]];
const ap1Rows=["Bach2(bZIP)","Fra2(bZIP)","Fosl2(bZIP)","Jun-AP1(bZIP)","AP-1(bZIP)","Fra1(bZIP)","JunB(bZIP)","Atf3(bZIP)","BATF(bZIP)"];
const ap1Vals=[[0,0,4.4,3.5,4.1,6.5,3.9,5.2],[2,2.8,5.8,5.2,5.3,8.8,5.5,6.6],[0,3,5.5,5.2,5.2,8.3,5.4,6.5],[0,3.2,5.5,5.2,5.2,7,5.4,6.4],[0,2.7,5.7,5.2,5.3,9,5.4,6.6],[0,3.1,5.6,5.2,5.3,9,5.4,6.6],[0,2.9,5.7,5.2,5.2,9,5.4,6.5],[0,2.9,5.7,5.2,5.2,9,5.4,6.5],[0,2.8,5.8,5.2,5.3,9,5.4,6.6]];
const irfRows=["IRF3(IRF)","IRF2(IRF)","ISRE(IRF)","IRF1(IRF)","IRF8(IRF)"];
const irfVals=[[0,4.9,2,2.9,3.2,3.6,0,2],[0,5.1,0,3.3,3.2,3.1,2,0],[0,4.8,0,2.8,3.1,3.2,0,0],[0,5.1,0,3.1,3.3,3.3,0,0],[0,5.1,0,2.9,3.2,3.6,0,0]];
const etsRows=["ETS:RUNX(ETS,Runt)","ELF5(ETS)","EHF(ETS)","ELF3(ETS)","Elf4(ETS)","PU.1(ETS)","ELF1(ETS)","ETS(ETS)","Elk1(ETS)","Elk4(ETS)","SPDEF(ETS)","Fli1(ETS)","EWS:ERG-fusion(ETS)","ETS1(ETS)","ERG(ETS)","ETV1(ETS)","Etv2(ETS)","Ets1-distal(ETS)"];
const etsVals=[[0,0,4.9,3.8,3.4,0,0,0],[0,3.3,3.6,3.5,2.5,0,0,0],[0,3.1,4.3,3.8,2.2,0,0,0],[0,3.2,4.3,3.8,2.5,0,0,0],[0,3.8,4.8,4.5,3.2,0,0,0],[0,2.8,4.5,4.3,3.4,0,0,0],[0,3.1,4.8,3.8,3.2,0,0,0],[0,3,4.5,4,3.4,0,0,0],[0,3.1,4.5,4.1,3.5,0,0,0],[0,3,4,3.7,3.1,0,0,0],[0,3.1,4.3,3.8,3.1,0,0,0],[0,3.8,5.4,5.3,4.1,2.7,2,0],[0,3.1,5,4.6,3.5,2.1,0,2.6],[0,4.1,5.7,5.4,4.4,2.7,0,2.5],[0,3.8,5.7,5.4,4.2,2.5,0,2.5],[0,3.9,5.7,5.4,4,2.1,0,2.4],[0,4,5.6,5.4,4.3,2.1,0,2.4],[0,3.9,5.3,5.2,3.9,0,2,2.6]];
const runxRows=["RUNX-AML(Runt)","RUNX1(Runt)","RUNX(Runt)","RUNX2(Runt)"];
const runxVals=[[0,3.4,5.9,4.2,2.9,3.9,0,2.9],[0,3.8,5.9,4.8,3.2,4.4,0,2.9],[0,3.5,5.9,4.7,3.4,4.5,0,3],[0,3.4,5.9,4.7,3.2,4,0,3]];
const tcfRows=["LEF1(HMG)","Tcf7(HMG)","TCFL2(HMG)","Tcf3(HMG)"];
const tcfVals=[[0,3.9,3,0,0,0,0,0],[0,3.6,3.2,0,0,0,0,0],[0,3.1,2,0,0,0,0,0],[0,3.5,2,0,0,0,0,0]];
const mixedRows=["EWS:FLI1-fusion(ETS)","ETV4(ETS)","GABPA(ETS)","SpiB(ETS)","GATA(Zf),IR3","Gata1(Zf)","GATA(Zf),IR4","REST-NRSF(Zf)","PU.1-IRF(ETS:IRF)","PRDM1(Zf)","PU.1:IRF8(ETS:IRF)","MafK(bZIP)","NFE2L2(bZIP)","NF-E2(bZIP)","Bach1(bZIP)","Nrf2(bZIP)","MafA(bZIP)","NFkB-p65(RHD)","NFkB-p65-Rel(RHD)","MafB(bZIP)","Pdx1(Homeobox)","Egr1(Zf)","Egr2(Zf)","WT1(Zf)","PBX2(Homeobox)","NFAT:AP1(RHD,bZIP)","NFkB-p50,p52(RHD)","IRF:BATF(IRF:bZIP)","bZIP:IRF(bZIP,IRF)","IRF4(IRF)","SCL(bHLH)"];
const mixedVals=[[0,3.4,5.3,5.1,3.4,0,0,2],[0,4,5.4,5.2,4,0,0,2.5],[0,3.8,5.3,5.2,3.6,0,0,2],[0,2.9,0,3,0,0,0,0],[0,0,0,3.7,0,0,0,0],[0,0,0,3.8,0,0,0,0],[0,0,0,3.3,2.4,0,0,0],[0,2.4,2.1,0,0,0,0,0],[0,2.8,0,2.4,2.7,2.1,0,2.1],[0,3.3,0,0,0,2.5,0,0],[0,4,0,2.9,0,2.7,0,0],[0,0,3,0,0,5.2,3.1,3.4],[0,0,2.4,3.3,2.5,5,2.1,3.8],[0,0,3.7,2.1,3.1,4.7,3,3.8],[0,0,3.4,3.3,3.1,5.4,3,3.7],[0,0,3.7,2.9,3,4.9,2.8,3.4],[0,0,2.5,2.1,0,5,0,0],[0,0,0,0,0,5.3,0,0],[0,0,0,0,0,5.2,0,0],[0,0,0,0,0,4.2,0,2.1],[0,0,0,0,0,4.1,0,2.5],[0,0,0,0,0,4.5,0,0],[0,0,0,0,0,4,0,0],[0,0,0,0,0,3.8,0,0],[0,0,0,0,0,3.2,0,0],[0,0,0,0,0,3.5,0,0],[0,0,0,0,0,3.6,0,0],[0,2.8,2.2,0,0,6,0,0],[0,3.3,2.5,2.2,2.2,5.8,0,0],[0,3.6,2.6,0,2.2,3.9,0,0],[0,2.2,3.3,0,0,3.2,0,0]];
const sigStops=[1.8,3,4,5,6,7,8,9.2];
const sigColours=["#4464ae","#8fadd8","#e8f0f6","#fdf5bf","#f8d480","#ee9f5d","#d95a3b","#b3261a"];
const sigTicks=[2,3,4,5,6,7,8,9];
const sizeLegend=[0,.25,.5,.75,1];
const typeLegend=["Only Host ATAC","With Integration Site","With Provirus ATAC"];
const typeColours=["#a39c93","#d9582c","#85b4dc"];

// ---------- drawing ----------
const W=762,H=968;
const svg=d3.select("#chart").append("svg").attr("width",W).attr("height",H);
const txt=(g,s,x,y,size,opt={})=>{const t=g.append("text").attr("x",x).attr("y",y).attr("font-size",size).text(s);
  if(opt.anchor)t.attr("text-anchor",opt.anchor); if(opt.bold)t.attr("font-weight","bold"); if(opt.rot!=null)t.attr("transform",`rotate(${opt.rot} ${x} ${y})`); return t;};
let opt_fill=1;
function badge(g,id,x,y,r,fs,sw){
  g.append("circle").attr("cx",x).attr("cy",y).attr("r",r).attr("fill","#fff").attr("fill-opacity",opt_fill).attr("stroke","#222").attr("stroke-width",sw);
  g.append("text").attr("x",x).attr("y",y+fs*.36).attr("text-anchor","middle").attr("font-size",fs).attr("font-weight","bold").text(id);
}
function umapAxes(g,x,y,x0,y1,xEnd,yTop){
  const ax=d3.axisBottom(x).tickValues([-5,-2.5,0,2.5,5]).tickFormat(d3.format(".1f")).tickSize(3).tickSizeOuter(0);
  const ay=d3.axisLeft(y).tickValues([-8,-4,0,4,8]).tickFormat(d3.format("d")).tickSize(3).tickSizeOuter(0);
  const gx=g.append("g").attr("transform",`translate(0,${y1})`).call(ax);
  const gy=g.append("g").attr("transform",`translate(${x0},0)`).call(ay);
  [gx,gy].forEach(a=>{a.select(".domain").remove();a.selectAll("line").attr("stroke","#555");a.selectAll("text").attr("font-size",12).attr("fill","#222");});
  g.append("line").attr("x1",x0).attr("x2",xEnd).attr("y1",y1).attr("y2",y1).attr("stroke","#666").attr("stroke-width",1.2);
  g.append("line").attr("x1",x0).attr("x2",x0).attr("y1",yTop).attr("y2",y1).attr("stroke","#666").attr("stroke-width",1.2);
}

// Panel A
{
 const g=svg.append("g");
 const x=d3.scaleLinear().domain([-5,5]).range([36,339.3]);
 const y=d3.scaleLinear().domain([-8,8]).range([275.3,30]);
 umapAxes(g,x,y,33.7,280,343,27);
 clusterIds.forEach(id=>{
  g.append("g").selectAll("circle").data(clusterPts[id]).join("circle")
   .attr("cx",d=>x(d[0])).attr("cy",d=>y(d[1])).attr("r",1.95).attr("fill",clusterCol[id]).attr("fill-opacity",.95);
 });
 opt_fill=.55;
 labelIds.forEach((id,i)=>badge(g,id,x(labelX[i]),y(labelY[i]),6,8,.9));
 opt_fill=1;
 txt(g,"A",1,25,27);
 txt(g,"scATAC-seq in CAR-T cells",206.5,20,17.6,{anchor:"middle"});
 txt(g,"UMAP−1",191,308,11.5,{anchor:"middle",bold:true});
 txt(g,"UMAP−2",14,143,11.5,{anchor:"middle",bold:true,rot:-90});
}
// Panel B
{
 const g=svg.append("g");
 const x=d3.scaleLinear().domain([-5,5]).range([413.3,676.7]);
 const y=d3.scaleLinear().domain([-8,8]).range([275,28]);
 const r=d3.scaleSqrt().domain([0,1]).range([.8,5.9]);
 umapAxes(g,x,y,410.7,280,680,25);
 const layer=(data,col,op)=>g.append("g").selectAll("circle").data(data).join("circle")
   .attr("cx",d=>x(d[0])).attr("cy",d=>y(d[1])).attr("r",d=>r(d[2])).attr("fill",col).attr("fill-opacity",op);
 layer(bHost,typeColours[0],.6);
 layer(bProvirus,typeColours[2],.42);
 layer(bIntegration,typeColours[1],.6);
 txt(g,"B",367,25,27);
 txt(g,"scATAC-seq in CAR-T cells",557.5,16,17.6,{anchor:"middle"});
 txt(g,"UMAP−1",547,308,11.5,{anchor:"middle",bold:true});
 txt(g,"UMAP−2",385,148,11.5,{anchor:"middle",bold:true,rot:-90});
 txt(g,"Relative Fragments",668,126,9.3);
 const ly=d3.scalePoint().domain(sizeLegend).range([134.5,179.3]);
 sizeLegend.forEach(v=>{
   g.append("circle").attr("cx",677).attr("cy",ly(v)).attr("r",r(v)).attr("fill","#a39c93").attr("fill-opacity",.85);
   txt(g,v.toFixed(2),686,ly(v)+3.3,9.3);
 });
 const ty=d3.scalePoint().domain(typeLegend).range([214,236.3]);
 typeLegend.forEach((s,i)=>{
   g.append("circle").attr("cx",671.7).attr("cy",ty(s)).attr("r",2.2).attr("fill",typeColours[i]).attr("fill-opacity",.55);
   txt(g,s,679.5,ty(s)+3.3,9.3);
 });
}
// Panel C
{
 const g=svg.append("g");
 const x=d3.scaleBand().domain(tssBins).range([84.7,317.7]);
 const y=d3.scaleBand().domain(tssClusters).range([416,784]);
 const col=d3.scaleLinear().domain(tssStops).range(tssColours);
 [tss0,tss10,tss100,tss1000,tss10000].forEach((vals,j)=>{
  g.append("g").selectAll("rect").data(vals).join("rect")
   .attr("x",x(tssBins[j])).attr("y",(d,i)=>y(tssClusters[i])).attr("width",x.bandwidth()+.3).attr("height",y.bandwidth()+.3).attr("fill",d=>col(d));
 });
 tssBins.forEach(b=>{const cx=x(b)+x.bandwidth()/2;
  g.append("line").attr("x1",cx).attr("x2",cx).attr("y1",784).attr("y2",789).attr("stroke","#555");
  txt(g,b,cx-1,806,15,{anchor:"middle"});
 });
 tssClusters.forEach(c=>{const cy=y(c)+y.bandwidth()/2;
  g.append("line").attr("x1",81.5).attr("x2",84.7).attr("y1",cy).attr("y2",cy).attr("stroke","#555");
  badge(g,c,65.7,cy-1.5,8,11.5,1.3);
 });
 g.append("line").attr("x1",39).attr("x2",39).attr("y1",418).attr("y2",597).attr("stroke","#333").attr("stroke-width",1.3);
 g.append("line").attr("x1",39).attr("x2",39).attr("y1",608).attr("y2",784).attr("stroke","#333").attr("stroke-width",1.3);
 txt(g,"UMAP-2<0",34,521,14,{anchor:"middle",rot:-90});
 txt(g,"UMAP-2>0",34,700,14,{anchor:"middle",rot:-90});
 txt(g,"C",1,375,27);
 txt(g,"Enrichment of fragments at TSS",204,379,14,{anchor:"middle"});
 txt(g,"and promoter-distal regions",206,398,14,{anchor:"middle"});
 txt(g,"Cluster",39.5,408,13,{bold:true});
 txt(g,"Distance to TSS (bp)",199,832,14,{anchor:"middle"});
 const cbY=d3.scaleLinear().domain([1.5,46.8]).range([784,416]);
 const bar=d3.range(784,416,-2);
 g.append("g").selectAll("rect").data(bar).join("rect").attr("x",332.3).attr("y",d=>d-2).attr("width",10.4).attr("height",2.4).attr("fill",d=>col(cbY.invert(d-1)));
 tssTicks.forEach(t=>{
  g.append("line").attr("x1",342.7).attr("x2",345.5).attr("y1",cbY(t)).attr("y2",cbY(t)).attr("stroke","#555");
  txt(g,t+"%",348,cbY(t)+5,14.5);
 });
}
// Panel D
{
 const g=svg.append("g");
 const x=d3.scaleBand().domain(motifClusters).range([442.3,605]);
 const col=d3.scaleLinear().domain(sigStops).range(sigColours);
 const groups=[[ctcfRows,ctcfVals,335.7,352.3,350],[ap1Rows,ap1Vals,359,433.3,406],[irfRows,irfVals,436.7,478,465],[etsRows,etsVals,481,630.3,553],[runxRows,runxVals,635,667.7,659],[tcfRows,tcfVals,670.7,703.3,695],[mixedRows,mixedVals,707.7,965,895]];
 groups.forEach(([rows,vals,top,bot,base],gi)=>{
  const y=d3.scaleBand().domain(rows).range([top,bot]);
  rows.forEach((rn,i)=>{
   g.append("g").selectAll("rect").data(vals[i]).join("rect")
    .attr("x",(d,j)=>x(motifClusters[j])).attr("y",y(rn)).attr("width",x.bandwidth()).attr("height",y.bandwidth())
    .attr("fill",d=>d?col(d):"#fff").attr("stroke","#bcbcbc").attr("stroke-width",.8);
   txt(g,rn,612,y(rn)+y.bandwidth()/2+2.8,7.7).attr("fill","#333");
  });
  g.append("rect").attr("x",434).attr("y",top).attr("width",2).attr("height",bot-top).attr("fill","#555");
  txt(g,groupNames[gi],431,base,gi===6?14.5:15,{anchor:"end",bold:true});
 });
 motifClusters.forEach(c=>badge(g,c,x(c)+x.bandwidth()/2,330,5.6,8.4,1));
 txt(g,"D",360,323,27);
 txt(g,"Cluster",391,320,13,{bold:true});
 txt(g,"TF motif",610,329,15,{bold:true});
 txt(g,"Significance level",677,763,10.8);
 const cb=d3.scaleLinear().domain([1.8,9.2]).range([963,775]);
 const bar=d3.range(963,775,-2);
 g.append("g").selectAll("rect").data(bar).join("rect").attr("x",706).attr("y",d=>d-2).attr("width",12.3).attr("height",2.4).attr("fill",d=>col(cb.invert(d-1)));
 sigTicks.forEach(t=>txt(g,t,723,cb(t)+5.3,15));
}
</script>
</body></html>
